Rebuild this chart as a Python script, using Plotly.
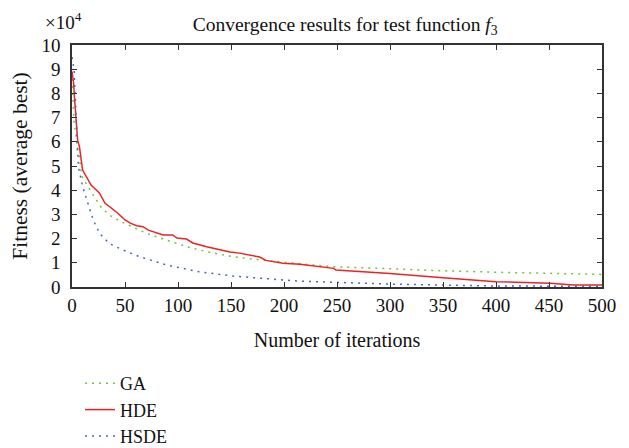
import plotly.graph_objects as go

# Iterations and fitness values (units of 1e4)
ga_iter = [0, 1, 2, 4, 5, 7, 9, 15, 21, 27, 35, 46, 57, 70, 89, 108, 127, 152, 177, 199, 215, 230, 247, 300, 350, 400, 451, 500]
ga_val = [8.6, 7.3, 6.8, 6.2, 5.66, 5.38, 4.6, 4.15, 3.73, 3.32, 2.98, 2.70, 2.49, 2.22, 1.94, 1.67, 1.46, 1.25, 1.12, 1.02, 0.97, 0.90, 0.84, 0.74, 0.67, 0.61, 0.56, 0.52]

hde_iter = [0, 1.6, 2.2, 3.2, 4.1, 4.7, 5.3, 7, 8.7, 10, 18, 26, 31, 37, 43, 50, 55, 61, 67, 72, 76, 86, 95, 99, 108, 114, 127, 133, 149, 158, 177, 183, 199, 215, 233, 247, 249, 300, 350, 400, 451, 473, 500]
hde_val = [8.9, 8.4, 7.9, 7.3, 6.9, 6.55, 6.07, 5.8, 5.3, 4.83, 4.21, 3.88, 3.47, 3.26, 3.06, 2.77, 2.64, 2.53, 2.49, 2.35, 2.29, 2.15, 2.15, 2.02, 1.98, 1.82, 1.66, 1.60, 1.45, 1.40, 1.24, 1.10, 0.98, 0.94, 0.84, 0.77, 0.70, 0.56, 0.38, 0.22, 0.15, 0.08, 0.08]

hsde_iter = [0, 1, 2, 2.5, 3, 3.5, 4, 4.5, 6, 10, 15, 20, 26, 35, 48, 64, 89, 120, 152, 183, 215, 300, 350, 400, 500]
hsde_val = [9.5, 9.24, 8.97, 8.4, 8.0, 7.6, 7.0, 6.5, 4.97, 4.15, 3.46, 2.77, 2.22, 1.80, 1.53, 1.25, 0.91, 0.63, 0.45, 0.36, 0.24, 0.12, 0.08, 0.04, 0.03]

x_ticks = [0, 50, 100, 150, 200, 250, 300, 350, 400, 450, 500]
y_ticks = [0, 1, 2, 3, 4, 5, 6, 7, 8, 9, 10]

FONT = "Liberation Serif"
TXT = "#111111"

fig = go.Figure()
fig.add_trace(go.Scatter(x=ga_iter, y=ga_val, mode="lines", name="GA",
                         line=dict(color="#66cc33", width=1.5, dash="2px,5px")))
fig.add_trace(go.Scatter(x=hde_iter, y=hde_val, mode="lines", name="HDE",
                         line=dict(color="#ee2222", width=1.5)))
fig.add_trace(go.Scatter(x=hsde_iter, y=hsde_val, mode="lines", name="HSDE",
                         line=dict(color="#4466cc", width=1.5, dash="2px,5px")))

axis_common = dict(showgrid=False, zeroline=False, showline=True, linecolor="#333333",
                   linewidth=1.5, mirror="ticks", ticks="inside", ticklen=5,
                   tickcolor="#333333", automargin=False,
                   tickfont=dict(family=FONT, size=19, color=TXT))

fig.update_xaxes(range=[0, 500], tickvals=x_ticks,
                 title=dict(text="Number of iterations", font=dict(family=FONT, size=20, color=TXT), standoff=18),
                 **axis_common)
fig.update_yaxes(range=[0, 10], tickvals=y_ticks, ticklabelstandoff=6,
                 title=dict(text="Fitness (average best)", font=dict(family=FONT, size=21.5, color=TXT), standoff=8),
                 **axis_common)

fig.update_layout(
    width=629, height=448,
    margin=dict(l=64, r=35, t=37, b=169, autoexpand=False),
    paper_bgcolor="white", plot_bgcolor="white",
    title=dict(text="Convergence results for test function <i>f</i><sub>3</sub>",
               x=0.536, xanchor="center", y=0.964, yanchor="middle",
               font=dict(family=FONT, size=19.5, color=TXT)),
    legend=dict(x=0.0151, y=-0.3223, xanchor="left", yanchor="top",
                font=dict(family=FONT, size=18, color=TXT),
                bgcolor="rgba(0,0,0,0)", tracegroupgap=0),
    annotations=[dict(text="×10<sup>4</sup>", xref="paper", yref="paper",
                      x=-0.0547, y=1.100, xanchor="left", yanchor="middle", showarrow=False,
                      font=dict(family=FONT, size=19, color=TXT))],
)

fig.write_html("out.html")
